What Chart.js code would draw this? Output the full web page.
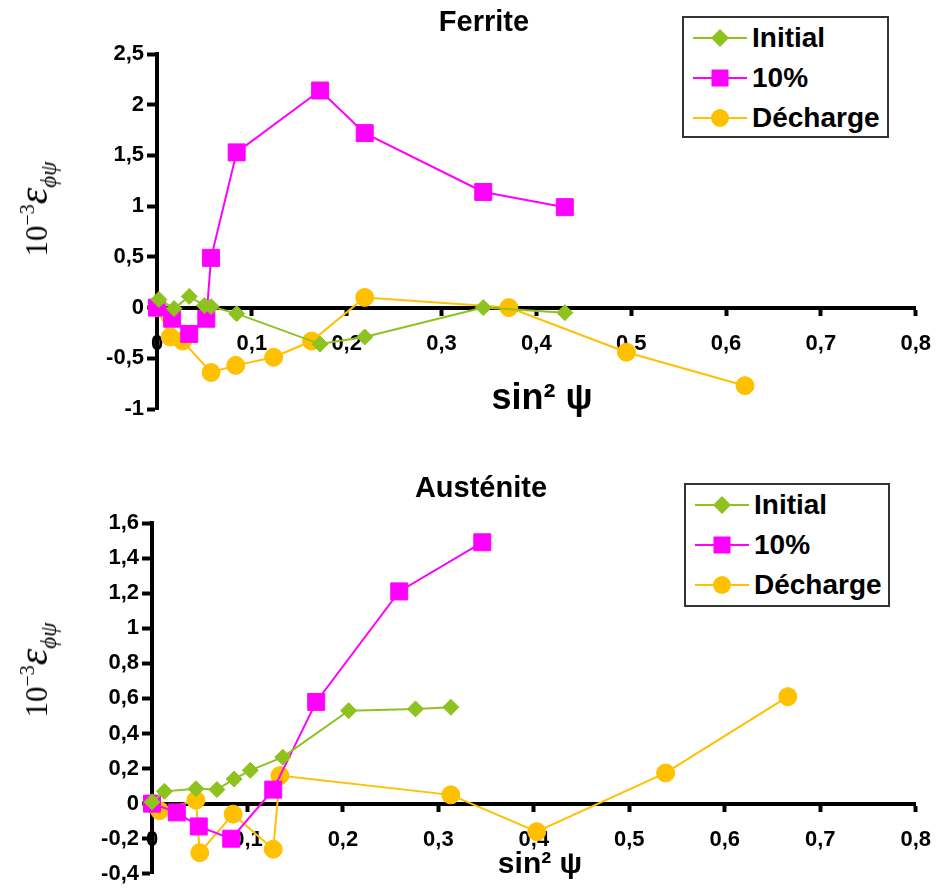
<!DOCTYPE html>
<html>
<head>
<meta charset="utf-8">
<script src="https://cdn.jsdelivr.net/npm/chart.js@4.4.1/dist/chart.umd.min.js"></script>
<style>
  body { margin:0; background:#fff; width:948px; height:890px; position:relative; overflow:hidden;
         font-family:"Liberation Sans", Arial, sans-serif; color:#000; }
  canvas { position:absolute; left:0; }
  .title { position:absolute; font-weight:bold; white-space:nowrap; transform:translateX(-50%); }
  .ylab { position:absolute; white-space:nowrap; font-family:"Liberation Serif","Times New Roman",serif;
          font-size:31px; line-height:40px; transform:translate(-50%,-50%) rotate(-90deg); }
  .ylab sup { font-size:20px; vertical-align:13px; }
  .ylab .eps { font-style:italic; font-size:42px; }
  .ylab sub { font-style:italic; font-size:23px; vertical-align:-9px; }
  .legend { position:absolute; border:2px solid #333; background:#fff; box-sizing:border-box; }
  .legend .row { height:40px; display:flex; align-items:center; font-weight:bold; font-size:28px; }
  .legend svg { margin-left:7px; margin-right:1px; }
</style>
</head>
<body>
<canvas id="ferrite" width="948" height="450" style="top:0"></canvas>
<canvas id="austenite" width="948" height="430" style="top:460px"></canvas>

<div class="title" style="left:484px; top:7px; font-size:29px; line-height:29px;">Ferrite</div>
<div class="title" style="left:481px; top:473px; font-size:29px; line-height:29px;">Austénite</div>
<div class="title" style="left:542px; top:379px; font-size:36px; line-height:36px;">sin² ψ</div>
<div class="title" style="left:540px; top:848px; font-size:30px; line-height:30px;">sin² ψ</div>

<div class="ylab" style="left:38px; top:209px;">10<sup>−3</sup><span class="eps">ε</span><sub>ϕψ</sub></div>
<div class="ylab" style="left:38px; top:670px;">10<sup>−3</sup><span class="eps">ε</span><sub>ϕψ</sub></div>

<div class="legend" id="legFer" style="left:682px; top:16px; width:207px; height:122px;"></div>
<div class="legend" id="legAus" style="left:684px; top:483px; width:206px; height:124px;"></div>

<script>
// ---- series style ----
const seriesNames = ["Initial", "10%", "Décharge"];
const seriesColors = ["#8DC21F", "#FF00FF", "#FFC000"];
const seriesMarkers = ["rectRot", "rect", "circle"];
const markerRadius = [8, 12, 9];

// ---- Ferrite (sin²ψ, 10^-3 eps) ----
const ferInitX = [0.002, 0.018, 0.034, 0.050, 0.057, 0.084, 0.172, 0.219, 0.344, 0.430];
const ferInitY = [0.08, -0.01, 0.11, 0.02, 0.01, -0.06, -0.36, -0.29, 0.0, -0.05];
const fer10X = [0.0, 0.016, 0.034, 0.052, 0.057, 0.084, 0.172, 0.219, 0.344, 0.430];
const fer10Y = [0.0, -0.11, -0.26, -0.11, 0.49, 1.53, 2.14, 1.72, 1.14, 0.99];
const ferDechX = [0.0, 0.014, 0.027, 0.057, 0.083, 0.123, 0.163, 0.219, 0.371, 0.495, 0.620];
const ferDechY = [0.0, -0.29, -0.33, -0.64, -0.57, -0.49, -0.33, 0.10, 0.0, -0.44, -0.77];

// ---- Austenite ----
const ausInitX = [0.0, 0.013, 0.046, 0.068, 0.086, 0.103, 0.137, 0.206, 0.276, 0.313];
const ausInitY = [0.01, 0.07, 0.085, 0.08, 0.14, 0.19, 0.265, 0.53, 0.54, 0.55];
const aus10X = [0.0, 0.026, 0.049, 0.083, 0.127, 0.172, 0.259, 0.346];
const aus10Y = [0.0, -0.05, -0.13, -0.20, 0.08, 0.58, 1.21, 1.49];
const ausDechX = [0.0, 0.008, 0.046, 0.050, 0.085, 0.127, 0.134, 0.313, 0.403, 0.538, 0.666];
const ausDechY = [0.0, -0.04, 0.02, -0.28, -0.06, -0.26, 0.16, 0.05, -0.16, 0.175, 0.61];

// axis ranges / ticks
const xMin = 0, xMax = 0.8, xStep = 0.1;
const ferYMin = -1, ferYMax = 2.5, ferYStep = 0.5;
const ausYMin = -0.4, ausYMax = 1.6, ausYStep = 0.2;

// virgule décimale
const fmt = v => String(+(+v).toFixed(2)).replace('.', ',');

function toPoints(xs, ys) {
    return xs.map((x, i) => ({ x: x, y: ys[i] }));
}

function makeDatasets(groups) {
    return groups.map((g, i) => ({
        label: seriesNames[i],
        data: toPoints(g[0], g[1]),
        showLine: true,
        borderColor: seriesColors[i],
        backgroundColor: seriesColors[i],
        borderWidth: 2,
        pointStyle: seriesMarkers[i],
        pointRadius: markerRadius[i],
        pointBorderWidth: 1,
        clip: false
    }));
}

function makeChart(id, groups, yMin, yMax, yStep, pad) {
    return new Chart(document.getElementById(id), {
        type: 'scatter',
        data: { datasets: makeDatasets(groups) },
        options: {
            responsive: false,
            animation: false,
            devicePixelRatio: 1,
            layout: { padding: pad },
            plugins: { legend: { display: false }, tooltip: { enabled: false } },
            scales: {
                x: {
                    type: 'linear', position: { y: 0 },
                    min: xMin, max: xMax,
                    border: { color: '#000', width: 4 },
                    grid: { drawOnChartArea: false, tickColor: '#000', tickLength: 6, tickWidth: 4 },
                    ticks: { stepSize: xStep, color: '#000', padding: 17,
                             font: { size: 22, weight: 'bold', family: 'Liberation Sans' }, callback: fmt }
                },
                y: {
                    type: 'linear', position: 'left',
                    min: yMin, max: yMax,
                    afterFit: s => { s.width = 70; },
                    border: { color: '#000', width: 4 },
                    grid: { drawOnChartArea: false, tickColor: '#000', tickLength: 10, tickWidth: 4 },
                    ticks: { stepSize: yStep, color: '#000', padding: 3,
                             font: { size: 22, weight: 'bold', family: 'Liberation Sans' }, callback: fmt }
                }
            }
        }
    });
}

makeChart('ferrite',
    [[ferInitX, ferInitY], [fer10X, fer10Y], [ferDechX, ferDechY]],
    ferYMin, ferYMax, ferYStep,
    { left: 87, right: 23, top: 54, bottom: 41 });

makeChart('austenite',
    [[ausInitX, ausInitY], [aus10X, aus10Y], [ausDechX, ausDechY]],
    ausYMin, ausYMax, ausYStep,
    { left: 82, right: 22, top: 63, bottom: 13 });

// légende (boîte encadrée en haut à droite)
function markerSvg(i) {
    const c = seriesColors[i];
    let shape = '';
    if (seriesMarkers[i] === 'rectRot') shape = `<polygon points="29,11 38,20 29,29 20,20" fill="${c}"/>`;
    else if (seriesMarkers[i] === 'rect') shape = `<rect x="20.5" y="11.5" width="17" height="17" fill="${c}"/>`;
    else shape = `<circle cx="29" cy="20" r="9" fill="${c}"/>`;
    return `<svg width="60" height="40"><line x1="2" y1="20" x2="56" y2="20" stroke="${c}" stroke-width="2"/>${shape}</svg>`;
}

['legFer', 'legAus'].forEach(id => {
    const box = document.getElementById(id);
    box.innerHTML = seriesNames.map((n, i) =>
        `<div class="row">${markerSvg(i)}<span>${n}</span></div>`).join('');
});
</script>
</body>
</html>
